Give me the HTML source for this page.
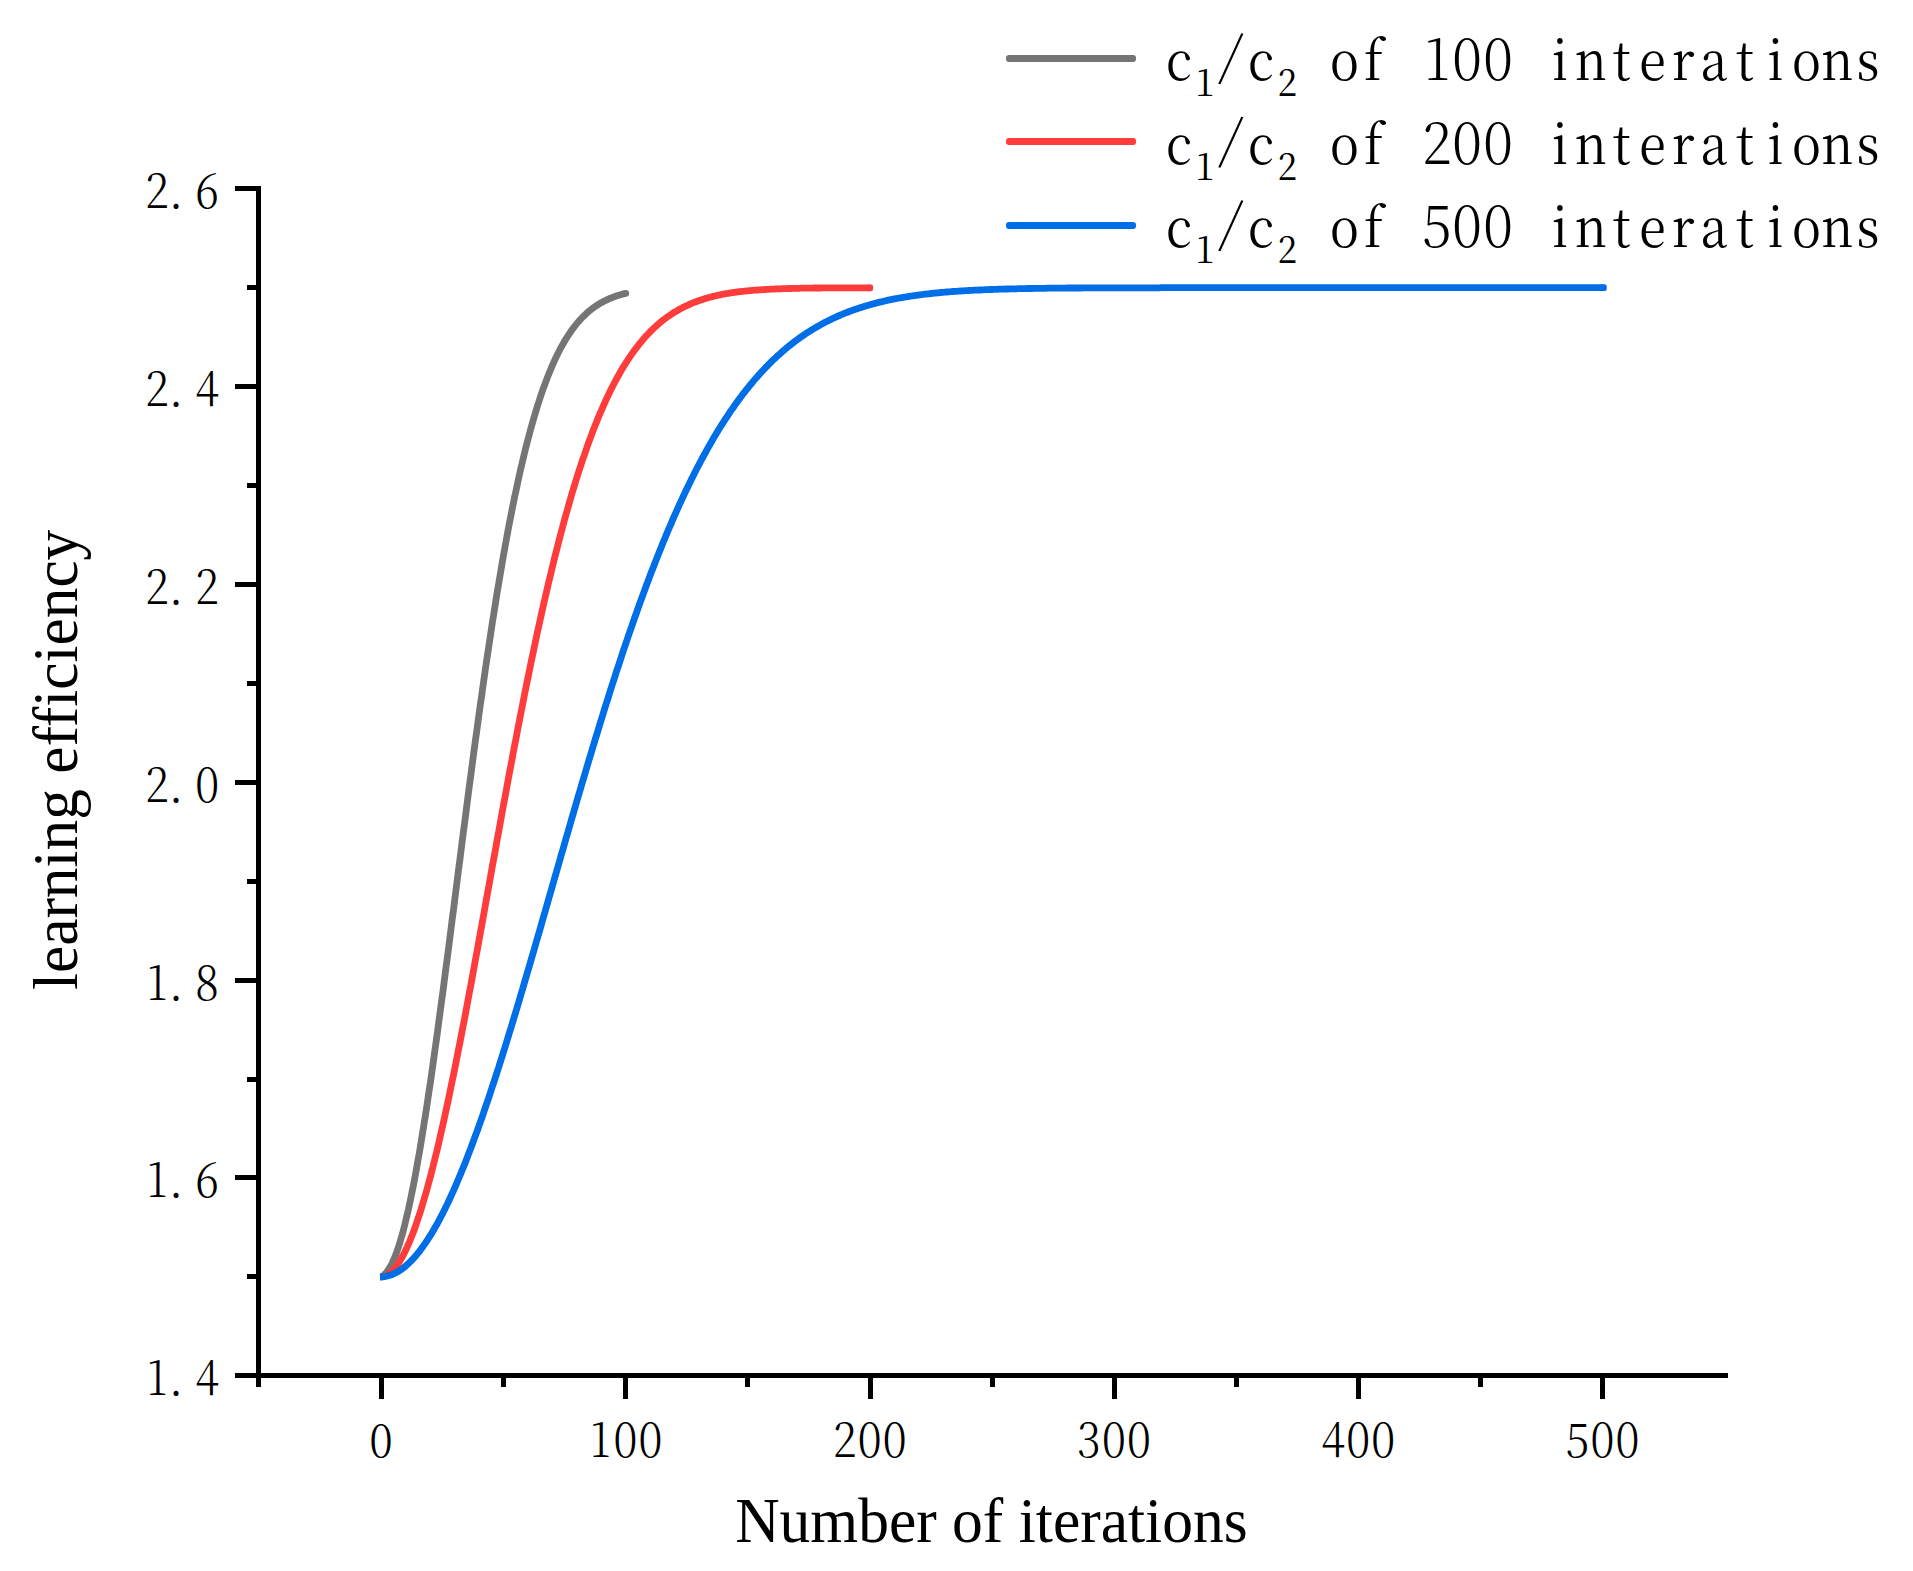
<!DOCTYPE html>
<html lang="en"><head><meta charset="utf-8"><title>c1/c2 learning efficiency</title>
<style>html,body{margin:0;padding:0;background:#fff}svg{display:block}.song{font-family:"Noto Serif CJK SC","Liberation Serif",serif;font-weight:300;fill:#000}.times{font-family:"Liberation Serif","Times New Roman",serif;fill:#000;font-variant-ligatures:none}</style></head><body>
<svg width="1913" height="1571" viewBox="0 0 1913 1571">
<rect width="1913" height="1571" fill="#fff"/>
<g fill="none" stroke-width="6.8" stroke-linecap="butt" stroke-linejoin="round">
<polyline stroke="#757575" points="380.0,1276.9 381.5,1276.9 382.7,1276.0 383.9,1275.0 385.2,1273.8 386.4,1272.5 387.6,1270.9 388.8,1269.1 390.0,1267.1 391.3,1264.9 392.5,1262.4 393.7,1259.7 394.9,1256.7 396.2,1253.6 397.4,1250.2 398.6,1246.5 399.8,1242.7 401.0,1238.6 402.3,1234.3 403.5,1229.8 404.7,1225.0 405.9,1220.0 407.1,1214.9 408.4,1209.5 409.6,1203.9 410.8,1198.1 412.0,1192.2 413.3,1186.0 414.5,1179.7 415.7,1173.1 416.9,1166.4 418.1,1159.5 419.4,1152.5 420.6,1145.3 421.8,1137.9 423.0,1130.4 424.2,1122.8 425.5,1115.0 426.7,1107.0 427.9,1098.9 429.1,1090.8 430.4,1082.4 431.6,1074.0 432.8,1065.5 434.0,1056.8 435.2,1048.1 436.5,1039.3 437.7,1030.3 438.9,1021.3 440.1,1012.3 441.3,1003.1 442.6,993.9 443.8,984.6 445.0,975.3 446.2,965.9 447.5,956.5 448.7,947.1 449.9,937.6 451.1,928.1 452.3,918.5 453.6,909.0 454.8,899.4 456.0,889.9 457.2,880.3 458.4,870.7 459.7,861.2 460.9,851.6 462.1,842.1 463.3,832.6 464.6,823.1 465.8,813.7 467.0,804.2 468.2,794.9 469.4,785.5 470.7,776.3 471.9,767.0 473.1,757.8 474.3,748.7 475.5,739.7 476.8,730.7 478.0,721.7 479.2,712.9 480.4,704.1 481.7,695.4 482.9,686.8 484.1,678.2 485.3,669.8 486.5,661.4 487.8,653.1 489.0,645.0 490.2,636.9 491.4,628.9 492.6,621.0 493.9,613.2 495.1,605.5 496.3,597.9 497.5,590.4 498.8,583.0 500.0,575.7 501.2,568.6 502.4,561.5 503.6,554.6 504.9,547.7 506.1,541.0 507.3,534.4 508.5,527.9 509.7,521.5 511.0,515.2 512.2,509.0 513.4,503.0 514.6,497.0 515.9,491.2 517.1,485.5 518.3,479.9 519.5,474.4 520.7,469.0 522.0,463.7 523.2,458.5 524.4,453.5 525.6,448.5 526.8,443.7 528.1,438.9 529.3,434.3 530.5,429.8 531.7,425.4 533.0,421.1 534.2,416.9 535.4,412.7 536.6,408.7 537.8,404.8 539.1,401.0 540.3,397.3 541.5,393.7 542.7,390.1 543.9,386.7 545.2,383.4 546.4,380.1 547.6,376.9 548.8,373.9 550.1,370.9 551.3,367.9 552.5,365.1 553.7,362.4 554.9,359.7 556.2,357.1 557.4,354.6 558.6,352.1 559.8,349.8 561.0,347.5 562.3,345.3 563.5,343.1 564.7,341.0 565.9,339.0 567.2,337.0 568.4,335.1 569.6,333.3 570.8,331.5 572.0,329.8 573.3,328.1 574.5,326.5 575.7,325.0 576.9,323.5 578.1,322.0 579.4,320.6 580.6,319.3 581.8,318.0 583.0,316.7 584.3,315.5 585.5,314.4 586.7,313.2 587.9,312.2 589.1,311.1 590.4,310.1 591.6,309.1 592.8,308.2 594.0,307.3 595.2,306.5 596.5,305.6 597.7,304.8 598.9,304.1 600.1,303.3 601.4,302.6 602.6,302.0 603.8,301.3 605.0,300.7 606.2,300.1 607.5,299.5 608.7,299.0 609.9,298.4 611.1,297.9 612.3,297.5 613.6,297.0 614.8,296.6 616.0,296.1 617.2,295.7 618.5,295.3 619.7,295.0 620.9,294.6 622.1,294.3 623.3,293.9 624.6,293.6 625.8,293.3"/>
<circle cx="625.8" cy="293.3" r="3.40" fill="#757575" stroke="none"/>
<polyline stroke="#ff3c3c" points="380.0,1276.9 381.5,1276.9 382.7,1276.7 383.9,1276.4 385.2,1276.0 386.4,1275.4 387.6,1274.7 388.8,1273.9 390.0,1273.0 391.3,1271.9 392.5,1270.8 393.7,1269.4 394.9,1268.0 396.2,1266.5 397.4,1264.8 398.6,1263.0 399.8,1261.1 401.0,1259.0 402.3,1256.9 403.5,1254.6 404.7,1252.2 405.9,1249.7 407.1,1247.1 408.4,1244.3 409.6,1241.5 410.8,1238.5 412.0,1235.5 413.3,1232.3 414.5,1229.0 415.7,1225.6 416.9,1222.0 418.1,1218.4 419.4,1214.7 420.6,1210.9 421.8,1207.0 423.0,1202.9 424.2,1198.8 425.5,1194.6 426.7,1190.3 427.9,1185.8 429.1,1181.3 430.4,1176.7 431.6,1172.1 432.8,1167.3 434.0,1162.4 435.2,1157.5 436.5,1152.5 437.7,1147.4 438.9,1142.2 440.1,1136.9 441.3,1131.6 442.6,1126.2 443.8,1120.7 445.0,1115.1 446.2,1109.5 447.5,1103.8 448.7,1098.1 449.9,1092.3 451.1,1086.4 452.3,1080.5 453.6,1074.5 454.8,1068.5 456.0,1062.4 457.2,1056.2 458.4,1050.0 459.7,1043.8 460.9,1037.5 462.1,1031.2 463.3,1024.8 464.6,1018.4 465.8,1012.0 467.0,1005.5 468.2,999.0 469.4,992.4 470.7,985.9 471.9,979.3 473.1,972.7 474.3,966.0 475.5,959.3 476.8,952.7 478.0,946.0 479.2,939.2 480.4,932.5 481.7,925.8 482.9,919.0 484.1,912.3 485.3,905.5 486.5,898.7 487.8,891.9 489.0,885.2 490.2,878.4 491.4,871.6 492.6,864.8 493.9,858.1 495.1,851.3 496.3,844.6 497.5,837.8 498.8,831.1 500.0,824.4 501.2,817.7 502.4,811.0 503.6,804.4 504.9,797.7 506.1,791.1 507.3,784.5 508.5,777.9 509.7,771.4 511.0,764.9 512.2,758.4 513.4,751.9 514.6,745.5 515.9,739.1 517.1,732.7 518.3,726.4 519.5,720.1 520.7,713.8 522.0,707.6 523.2,701.4 524.4,695.2 525.6,689.1 526.8,683.1 528.1,677.0 529.3,671.1 530.5,665.1 531.7,659.2 533.0,653.4 534.2,647.6 535.4,641.8 536.6,636.1 537.8,630.4 539.1,624.8 540.3,619.3 541.5,613.8 542.7,608.3 543.9,602.9 545.2,597.5 546.4,592.2 547.6,587.0 548.8,581.8 550.1,576.6 551.3,571.5 552.5,566.5 553.7,561.5 554.9,556.6 556.2,551.7 557.4,546.9 558.6,542.1 559.8,537.4 561.0,532.8 562.3,528.2 563.5,523.6 564.7,519.2 565.9,514.7 567.2,510.4 568.4,506.0 569.6,501.8 570.8,497.6 572.0,493.4 573.3,489.3 574.5,485.3 575.7,481.3 576.9,477.4 578.1,473.5 579.4,469.7 580.6,466.0 581.8,462.3 583.0,458.6 584.3,455.1 585.5,451.5 586.7,448.0 587.9,444.6 589.1,441.2 590.4,437.9 591.6,434.6 592.8,431.4 594.0,428.3 595.2,425.2 596.5,422.1 597.7,419.1 598.9,416.1 600.1,413.2 601.4,410.4 602.6,407.6 603.8,404.8 605.0,402.1 606.2,399.4 607.5,396.8 608.7,394.3 609.9,391.8 611.1,389.3 612.3,386.9 613.6,384.5 614.8,382.1 616.0,379.9 617.2,377.6 618.5,375.4 619.7,373.3 620.9,371.1 622.1,369.1 623.3,367.0 624.6,365.0 625.8,363.1 627.0,361.2 628.2,359.3 629.4,357.5 630.7,355.7 631.9,353.9 633.1,352.2 634.3,350.5 635.6,348.9 636.8,347.3 638.0,345.7 639.2,344.1 640.4,342.6 641.7,341.2 642.9,339.7 644.1,338.3 645.3,336.9 646.5,335.6 647.8,334.3 649.0,333.0 650.2,331.7 651.4,330.5 652.7,329.3 653.9,328.1 655.1,327.0 656.3,325.9 657.5,324.8 658.8,323.7 660.0,322.7 661.2,321.7 662.4,320.7 663.6,319.7 664.9,318.8 666.1,317.9 667.3,317.0 668.5,316.1 669.8,315.3 671.0,314.5 672.2,313.7 673.4,312.9 674.6,312.1 675.9,311.4 677.1,310.7 678.3,310.0 679.5,309.3 680.7,308.6 682.0,308.0 683.2,307.3 684.4,306.7 685.6,306.1 686.9,305.6 688.1,305.0 689.3,304.4 690.5,303.9 691.7,303.4 693.0,302.9 694.2,302.4 695.4,301.9 696.6,301.5 697.8,301.0 699.1,300.6 700.3,300.2 701.5,299.8 702.7,299.4 703.9,299.0 705.2,298.6 706.4,298.2 707.6,297.9 708.8,297.5 710.1,297.2 711.3,296.9 712.5,296.6 713.7,296.3 714.9,296.0 716.2,295.7 717.4,295.4 718.6,295.2 719.8,294.9 721.0,294.6 722.3,294.4 723.5,294.2 724.7,293.9 725.9,293.7 727.2,293.5 728.4,293.3 729.6,293.1 730.8,292.9 732.0,292.7 733.3,292.5 734.5,292.4 735.7,292.2 736.9,292.0 738.1,291.9 739.4,291.7 740.6,291.6 741.8,291.4 743.0,291.3 744.3,291.2 745.5,291.0 746.7,290.9 747.9,290.8 749.1,290.7 750.4,290.6 751.6,290.5 752.8,290.3 754.0,290.2 755.2,290.2 756.5,290.1 757.7,290.0 758.9,289.9 760.1,289.8 761.4,289.7 762.6,289.6 763.8,289.6 765.0,289.5 766.2,289.4 767.5,289.4 768.7,289.3 769.9,289.2 771.1,289.2 772.3,289.1 773.6,289.1 774.8,289.0 776.0,288.9 777.2,288.9 778.5,288.8 779.7,288.8 780.9,288.8 782.1,288.7 783.3,288.7 784.6,288.6 785.8,288.6 787.0,288.6 788.2,288.5 789.4,288.5 790.7,288.5 791.9,288.4 793.1,288.4 794.3,288.4 795.6,288.3 796.8,288.3 798.0,288.3 799.2,288.3 800.4,288.2 801.7,288.2 802.9,288.2 804.1,288.2 805.3,288.2 806.5,288.1 807.8,288.1 809.0,288.1 810.2,288.1 811.4,288.1 812.7,288.1 813.9,288.0 815.1,288.0 816.3,288.0 817.5,288.0 818.8,288.0 820.0,288.0 821.2,288.0 822.4,287.9 823.6,287.9 824.9,287.9 826.1,287.9 827.3,287.9 828.5,287.9 829.8,287.9 831.0,287.9 832.2,287.9 833.4,287.9 834.6,287.9 835.9,287.9 837.1,287.8 838.3,287.8 839.5,287.8 840.7,287.8 842.0,287.8 843.2,287.8 844.4,287.8 845.6,287.8 846.9,287.8 848.1,287.8 849.3,287.8 850.5,287.8 851.7,287.8 853.0,287.8 854.2,287.8 855.4,287.8 856.6,287.8 857.8,287.8 859.1,287.8 860.3,287.8 861.5,287.8 862.7,287.8 864.0,287.8 865.2,287.8 866.4,287.8 867.6,287.8 868.8,287.8 870.1,287.8"/>
<rect x="867.1" y="284.4" width="6.0" height="6.8" rx="2.2" fill="#ff3c3c" stroke="none"/>
<polyline stroke="#006ee6" points="380.0,1276.9 381.5,1276.9 382.7,1276.8 383.9,1276.7 385.2,1276.5 386.4,1276.2 387.6,1276.0 388.8,1275.6 390.0,1275.2 391.3,1274.8 392.5,1274.3 393.7,1273.8 394.9,1273.2 396.2,1272.6 397.4,1271.9 398.6,1271.2 399.8,1270.4 401.0,1269.6 402.3,1268.7 403.5,1267.8 404.7,1266.8 405.9,1265.8 407.1,1264.7 408.4,1263.6 409.6,1262.4 410.8,1261.2 412.0,1259.9 413.3,1258.6 414.5,1257.3 415.7,1255.9 416.9,1254.4 418.1,1252.9 419.4,1251.4 420.6,1249.8 421.8,1248.1 423.0,1246.5 424.2,1244.7 425.5,1243.0 426.7,1241.1 427.9,1239.3 429.1,1237.4 430.4,1235.4 431.6,1233.4 432.8,1231.4 434.0,1229.3 435.2,1227.2 436.5,1225.0 437.7,1222.8 438.9,1220.6 440.1,1218.3 441.3,1215.9 442.6,1213.6 443.8,1211.1 445.0,1208.7 446.2,1206.2 447.5,1203.7 448.7,1201.1 449.9,1198.5 451.1,1195.8 452.3,1193.1 453.6,1190.4 454.8,1187.7 456.0,1184.9 457.2,1182.0 458.4,1179.1 459.7,1176.2 460.9,1173.3 462.1,1170.3 463.3,1167.3 464.6,1164.3 465.8,1161.2 467.0,1158.1 468.2,1154.9 469.4,1151.7 470.7,1148.5 471.9,1145.3 473.1,1142.0 474.3,1138.7 475.5,1135.4 476.8,1132.0 478.0,1128.6 479.2,1125.2 480.4,1121.8 481.7,1118.3 482.9,1114.8 484.1,1111.2 485.3,1107.7 486.5,1104.1 487.8,1100.5 489.0,1096.9 490.2,1093.2 491.4,1089.5 492.6,1085.8 493.9,1082.1 495.1,1078.3 496.3,1074.6 497.5,1070.8 498.8,1067.0 500.0,1063.1 501.2,1059.3 502.4,1055.4 503.6,1051.5 504.9,1047.6 506.1,1043.7 507.3,1039.7 508.5,1035.7 509.7,1031.8 511.0,1027.8 512.2,1023.7 513.4,1019.7 514.6,1015.7 515.9,1011.6 517.1,1007.5 518.3,1003.5 519.5,999.4 520.7,995.2 522.0,991.1 523.2,987.0 524.4,982.8 525.6,978.7 526.8,974.5 528.1,970.3 529.3,966.2 530.5,962.0 531.7,957.8 533.0,953.6 534.2,949.4 535.4,945.1 536.6,940.9 537.8,936.7 539.1,932.4 540.3,928.2 541.5,924.0 542.7,919.7 543.9,915.4 545.2,911.2 546.4,906.9 547.6,902.7 548.8,898.4 550.1,894.1 551.3,889.9 552.5,885.6 553.7,881.4 554.9,877.1 556.2,872.8 557.4,868.6 558.6,864.3 559.8,860.1 561.0,855.8 562.3,851.6 563.5,847.3 564.7,843.1 565.9,838.8 567.2,834.6 568.4,830.4 569.6,826.1 570.8,821.9 572.0,817.7 573.3,813.5 574.5,809.3 575.7,805.1 576.9,800.9 578.1,796.8 579.4,792.6 580.6,788.4 581.8,784.3 583.0,780.2 584.3,776.0 585.5,771.9 586.7,767.8 587.9,763.7 589.1,759.6 590.4,755.5 591.6,751.5 592.8,747.4 594.0,743.4 595.2,739.4 596.5,735.4 597.7,731.4 598.9,727.4 600.1,723.4 601.4,719.4 602.6,715.5 603.8,711.6 605.0,707.6 606.2,703.8 607.5,699.9 608.7,696.0 609.9,692.1 611.1,688.3 612.3,684.5 613.6,680.7 614.8,676.9 616.0,673.1 617.2,669.4 618.5,665.6 619.7,661.9 620.9,658.2 622.1,654.5 623.3,650.9 624.6,647.2 625.8,643.6 627.0,640.0 628.2,636.4 629.4,632.9 630.7,629.3 631.9,625.8 633.1,622.3 634.3,618.8 635.6,615.3 636.8,611.8 638.0,608.4 639.2,605.0 640.4,601.6 641.7,598.2 642.9,594.9 644.1,591.6 645.3,588.3 646.5,585.0 647.8,581.7 649.0,578.5 650.2,575.2 651.4,572.0 652.7,568.9 653.9,565.7 655.1,562.6 656.3,559.5 657.5,556.4 658.8,553.3 660.0,550.2 661.2,547.2 662.4,544.2 663.6,541.2 664.9,538.3 666.1,535.3 667.3,532.4 668.5,529.5 669.8,526.6 671.0,523.8 672.2,520.9 673.4,518.1 674.6,515.4 675.9,512.6 677.1,509.9 678.3,507.1 679.5,504.4 680.7,501.8 682.0,499.1 683.2,496.5 684.4,493.9 685.6,491.3 686.9,488.7 688.1,486.2 689.3,483.7 690.5,481.2 691.7,478.7 693.0,476.3 694.2,473.8 695.4,471.4 696.6,469.0 697.8,466.7 699.1,464.3 700.3,462.0 701.5,459.7 702.7,457.5 703.9,455.2 705.2,453.0 706.4,450.8 707.6,448.6 708.8,446.4 710.1,444.2 711.3,442.1 712.5,440.0 713.7,437.9 714.9,435.9 716.2,433.8 717.4,431.8 718.6,429.8 719.8,427.8 721.0,425.9 722.3,423.9 723.5,422.0 724.7,420.1 725.9,418.2 727.2,416.4 728.4,414.6 729.6,412.7 730.8,410.9 732.0,409.2 733.3,407.4 734.5,405.7 735.7,403.9 736.9,402.2 738.1,400.6 739.4,398.9 740.6,397.3 741.8,395.6 743.0,394.0 744.3,392.4 745.5,390.9 746.7,389.3 747.9,387.8 749.1,386.3 750.4,384.8 751.6,383.3 752.8,381.8 754.0,380.4 755.2,379.0 756.5,377.6 757.7,376.2 758.9,374.8 760.1,373.5 761.4,372.1 762.6,370.8 763.8,369.5 765.0,368.2 766.2,366.9 767.5,365.7 768.7,364.4 769.9,363.2 771.1,362.0 772.3,360.8 773.6,359.6 774.8,358.5 776.0,357.3 777.2,356.2 778.5,355.1 779.7,354.0 780.9,352.9 782.1,351.8 783.3,350.7 784.6,349.7 785.8,348.7 787.0,347.7 788.2,346.7 789.4,345.7 790.7,344.7 791.9,343.7 793.1,342.8 794.3,341.8 795.6,340.9 796.8,340.0 798.0,339.1 799.2,338.2 800.4,337.4 801.7,336.5 802.9,335.7 804.1,334.8 805.3,334.0 806.5,333.2 807.8,332.4 809.0,331.6 810.2,330.9 811.4,330.1 812.7,329.3 813.9,328.6 815.1,327.9 816.3,327.2 817.5,326.5 818.8,325.8 820.0,325.1 821.2,324.4 822.4,323.7 823.6,323.1 824.9,322.4 826.1,321.8 827.3,321.2 828.5,320.6 829.8,320.0 831.0,319.4 832.2,318.8 833.4,318.2 834.6,317.6 835.9,317.1 837.1,316.5 838.3,316.0 839.5,315.5 840.7,314.9 842.0,314.4 843.2,313.9 844.4,313.4 845.6,312.9 846.9,312.4 848.1,312.0 849.3,311.5 850.5,311.1 851.7,310.6 853.0,310.2 854.2,309.7 855.4,309.3 856.6,308.9 857.8,308.5 859.1,308.1 860.3,307.7 861.5,307.3 862.7,306.9 864.0,306.5 865.2,306.1 866.4,305.8 867.6,305.4 868.8,305.0 870.1,304.7 871.3,304.4 872.5,304.0 873.7,303.7 874.9,303.4 876.2,303.1 877.4,302.7 878.6,302.4 879.8,302.1 881.1,301.8 882.3,301.6 883.5,301.3 884.7,301.0 885.9,300.7 887.2,300.4 888.4,300.2 889.6,299.9 890.8,299.7 892.0,299.4 893.3,299.2 894.5,298.9 895.7,298.7 896.9,298.5 898.2,298.2 899.4,298.0 900.6,297.8 901.8,297.6 903.0,297.4 904.3,297.2 905.5,297.0 906.7,296.8 907.9,296.6 909.1,296.4 910.4,296.2 911.6,296.0 912.8,295.8 914.0,295.6 915.3,295.5 916.5,295.3 917.7,295.1 918.9,295.0 920.1,294.8 921.4,294.7 922.6,294.5 923.8,294.3 925.0,294.2 926.2,294.1 927.5,293.9 928.7,293.8 929.9,293.6 931.1,293.5 932.4,293.4 933.6,293.2 934.8,293.1 936.0,293.0 937.2,292.9 938.5,292.8 939.7,292.6 940.9,292.5 942.1,292.4 943.3,292.3 944.6,292.2 945.8,292.1 947.0,292.0 948.2,291.9 949.5,291.8 950.7,291.7 951.9,291.6 953.1,291.5 954.3,291.4 955.6,291.4 956.8,291.3 958.0,291.2 959.2,291.1 960.4,291.0 961.7,290.9 962.9,290.9 964.1,290.8 965.3,290.7 966.6,290.6 967.8,290.6 969.0,290.5 970.2,290.4 971.4,290.4 972.7,290.3 973.9,290.2 975.1,290.2 976.3,290.1 977.5,290.1 978.8,290.0 980.0,290.0 981.2,289.9 982.4,289.8 983.7,289.8 984.9,289.7 986.1,289.7 987.3,289.6 988.5,289.6 989.8,289.5 991.0,289.5 992.2,289.5 993.4,289.4 994.6,289.4 995.9,289.3 997.1,289.3 998.3,289.2 999.5,289.2 1000.7,289.2 1002.0,289.1 1003.2,289.1 1004.4,289.1 1005.6,289.0 1006.9,289.0 1008.1,289.0 1009.3,288.9 1010.5,288.9 1011.7,288.9 1013.0,288.8 1014.2,288.8 1015.4,288.8 1016.6,288.8 1017.8,288.7 1019.1,288.7 1020.3,288.7 1021.5,288.7 1022.7,288.6 1024.0,288.6 1025.2,288.6 1026.4,288.6 1027.6,288.5 1028.8,288.5 1030.1,288.5 1031.3,288.5 1032.5,288.5 1033.7,288.4 1034.9,288.4 1036.2,288.4 1037.4,288.4 1038.6,288.4 1039.8,288.3 1041.1,288.3 1042.3,288.3 1043.5,288.3 1044.7,288.3 1045.9,288.3 1047.2,288.2 1048.4,288.2 1049.6,288.2 1050.8,288.2 1052.0,288.2 1053.3,288.2 1054.5,288.2 1055.7,288.2 1056.9,288.1 1058.2,288.1 1059.4,288.1 1060.6,288.1 1061.8,288.1 1063.0,288.1 1064.3,288.1 1065.5,288.1 1066.7,288.1 1067.9,288.0 1069.1,288.0 1070.4,288.0 1071.6,288.0 1072.8,288.0 1074.0,288.0 1075.3,288.0 1076.5,288.0 1077.7,288.0 1078.9,288.0 1080.1,288.0 1081.4,288.0 1082.6,287.9 1083.8,287.9 1085.0,287.9 1086.2,287.9 1087.5,287.9 1088.7,287.9 1089.9,287.9 1091.1,287.9 1092.4,287.9 1093.6,287.9 1094.8,287.9 1096.0,287.9 1097.2,287.9 1098.5,287.9 1099.7,287.9 1100.9,287.9 1102.1,287.9 1103.3,287.9 1104.6,287.9 1105.8,287.8 1107.0,287.8 1108.2,287.8 1109.5,287.8 1110.7,287.8 1111.9,287.8 1113.1,287.8 1114.3,287.8 1115.6,287.8 1116.8,287.8 1118.0,287.8 1119.2,287.8 1120.4,287.8 1121.7,287.8 1122.9,287.8 1124.1,287.8 1125.3,287.8 1126.6,287.8 1127.8,287.8 1129.0,287.8 1130.2,287.8 1131.4,287.8 1132.7,287.8 1133.9,287.8 1135.1,287.8 1136.3,287.8 1137.5,287.8 1138.8,287.8 1140.0,287.8 1141.2,287.8 1142.4,287.8 1143.7,287.8 1144.9,287.8 1146.1,287.8 1147.3,287.8 1148.5,287.8 1149.8,287.8 1151.0,287.8 1152.2,287.8 1153.4,287.8 1154.6,287.8 1155.9,287.8 1157.1,287.8 1158.3,287.8 1159.5,287.8 1160.8,287.7 1162.0,287.7 1163.2,287.7 1164.4,287.7 1165.6,287.7 1166.9,287.7 1168.1,287.7 1169.3,287.7 1170.5,287.7 1171.7,287.7 1173.0,287.7 1174.2,287.7 1175.4,287.7 1176.6,287.7 1177.9,287.7 1179.1,287.7 1180.3,287.7 1181.5,287.7 1182.7,287.7 1184.0,287.7 1185.2,287.7 1186.4,287.7 1187.6,287.7 1188.8,287.7 1190.1,287.7 1191.3,287.7 1192.5,287.7 1193.7,287.7 1195.0,287.7 1196.2,287.7 1197.4,287.7 1198.6,287.7 1199.8,287.7 1201.1,287.7 1202.3,287.7 1203.5,287.7 1204.7,287.7 1205.9,287.7 1207.2,287.7 1208.4,287.7 1209.6,287.7 1210.8,287.7 1212.1,287.7 1213.3,287.7 1214.5,287.7 1215.7,287.7 1216.9,287.7 1218.2,287.7 1219.4,287.7 1220.6,287.7 1221.8,287.7 1223.0,287.7 1224.3,287.7 1225.5,287.7 1226.7,287.7 1227.9,287.7 1229.2,287.7 1230.4,287.7 1231.6,287.7 1232.8,287.7 1234.0,287.7 1235.3,287.7 1236.5,287.7 1237.7,287.7 1238.9,287.7 1240.1,287.7 1241.4,287.7 1242.6,287.7 1243.8,287.7 1245.0,287.7 1246.3,287.7 1247.5,287.7 1248.7,287.7 1249.9,287.7 1251.1,287.7 1252.4,287.7 1253.6,287.7 1254.8,287.7 1256.0,287.7 1257.2,287.7 1258.5,287.7 1259.7,287.7 1260.9,287.7 1262.1,287.7 1263.4,287.7 1264.6,287.7 1265.8,287.7 1267.0,287.7 1268.2,287.7 1269.5,287.7 1270.7,287.7 1271.9,287.7 1273.1,287.7 1274.3,287.7 1275.6,287.7 1276.8,287.7 1278.0,287.7 1279.2,287.7 1280.5,287.7 1281.7,287.7 1282.9,287.7 1284.1,287.7 1285.3,287.7 1286.6,287.7 1287.8,287.7 1289.0,287.7 1290.2,287.7 1291.4,287.7 1292.7,287.7 1293.9,287.7 1295.1,287.7 1296.3,287.7 1297.6,287.7 1298.8,287.7 1300.0,287.7 1301.2,287.7 1302.4,287.7 1303.7,287.7 1304.9,287.7 1306.1,287.7 1307.3,287.7 1308.5,287.7 1309.8,287.7 1311.0,287.7 1312.2,287.7 1313.4,287.7 1314.6,287.7 1315.9,287.7 1317.1,287.7 1318.3,287.7 1319.5,287.7 1320.8,287.7 1322.0,287.7 1323.2,287.7 1324.4,287.7 1325.6,287.7 1326.9,287.7 1328.1,287.7 1329.3,287.7 1330.5,287.7 1331.7,287.7 1333.0,287.7 1334.2,287.7 1335.4,287.7 1336.6,287.7 1337.9,287.7 1339.1,287.7 1340.3,287.7 1341.5,287.7 1342.7,287.7 1344.0,287.7 1345.2,287.7 1346.4,287.7 1347.6,287.7 1348.8,287.7 1350.1,287.7 1351.3,287.7 1352.5,287.7 1353.7,287.7 1355.0,287.7 1356.2,287.7 1357.4,287.7 1358.6,287.7 1359.8,287.7 1361.1,287.7 1362.3,287.7 1363.5,287.7 1364.7,287.7 1365.9,287.7 1367.2,287.7 1368.4,287.7 1369.6,287.7 1370.8,287.7 1372.1,287.7 1373.3,287.7 1374.5,287.7 1375.7,287.7 1376.9,287.7 1378.2,287.7 1379.4,287.7 1380.6,287.7 1381.8,287.7 1383.0,287.7 1384.3,287.7 1385.5,287.7 1386.7,287.7 1387.9,287.7 1389.2,287.7 1390.4,287.7 1391.6,287.7 1392.8,287.7 1394.0,287.7 1395.3,287.7 1396.5,287.7 1397.7,287.7 1398.9,287.7 1400.1,287.7 1401.4,287.7 1402.6,287.7 1403.8,287.7 1405.0,287.7 1406.3,287.7 1407.5,287.7 1408.7,287.7 1409.9,287.7 1411.1,287.7 1412.4,287.7 1413.6,287.7 1414.8,287.7 1416.0,287.7 1417.2,287.7 1418.5,287.7 1419.7,287.7 1420.9,287.7 1422.1,287.7 1423.4,287.7 1424.6,287.7 1425.8,287.7 1427.0,287.7 1428.2,287.7 1429.5,287.7 1430.7,287.7 1431.9,287.7 1433.1,287.7 1434.3,287.7 1435.6,287.7 1436.8,287.7 1438.0,287.7 1439.2,287.7 1440.5,287.7 1441.7,287.7 1442.9,287.7 1444.1,287.7 1445.3,287.7 1446.6,287.7 1447.8,287.7 1449.0,287.7 1450.2,287.7 1451.4,287.7 1452.7,287.7 1453.9,287.7 1455.1,287.7 1456.3,287.7 1457.6,287.7 1458.8,287.7 1460.0,287.7 1461.2,287.7 1462.4,287.7 1463.7,287.7 1464.9,287.7 1466.1,287.7 1467.3,287.7 1468.5,287.7 1469.8,287.7 1471.0,287.7 1472.2,287.7 1473.4,287.7 1474.7,287.7 1475.9,287.7 1477.1,287.7 1478.3,287.7 1479.5,287.7 1480.8,287.7 1482.0,287.7 1483.2,287.7 1484.4,287.7 1485.6,287.7 1486.9,287.7 1488.1,287.7 1489.3,287.7 1490.5,287.7 1491.8,287.7 1493.0,287.7 1494.2,287.7 1495.4,287.7 1496.6,287.7 1497.9,287.7 1499.1,287.7 1500.3,287.7 1501.5,287.7 1502.7,287.7 1504.0,287.7 1505.2,287.7 1506.4,287.7 1507.6,287.7 1508.9,287.7 1510.1,287.7 1511.3,287.7 1512.5,287.7 1513.7,287.7 1515.0,287.7 1516.2,287.7 1517.4,287.7 1518.6,287.7 1519.8,287.7 1521.1,287.7 1522.3,287.7 1523.5,287.7 1524.7,287.7 1526.0,287.7 1527.2,287.7 1528.4,287.7 1529.6,287.7 1530.8,287.7 1532.1,287.7 1533.3,287.7 1534.5,287.7 1535.7,287.7 1536.9,287.7 1538.2,287.7 1539.4,287.7 1540.6,287.7 1541.8,287.7 1543.1,287.7 1544.3,287.7 1545.5,287.7 1546.7,287.7 1547.9,287.7 1549.2,287.7 1550.4,287.7 1551.6,287.7 1552.8,287.7 1554.0,287.7 1555.3,287.7 1556.5,287.7 1557.7,287.7 1558.9,287.7 1560.2,287.7 1561.4,287.7 1562.6,287.7 1563.8,287.7 1565.0,287.7 1566.3,287.7 1567.5,287.7 1568.7,287.7 1569.9,287.7 1571.1,287.7 1572.4,287.7 1573.6,287.7 1574.8,287.7 1576.0,287.7 1577.3,287.7 1578.5,287.7 1579.7,287.7 1580.9,287.7 1582.1,287.7 1583.4,287.7 1584.6,287.7 1585.8,287.7 1587.0,287.7 1588.2,287.7 1589.5,287.7 1590.7,287.7 1591.9,287.7 1593.1,287.7 1594.4,287.7 1595.6,287.7 1596.8,287.7 1598.0,287.7 1599.2,287.7 1600.5,287.7 1601.7,287.7 1602.9,287.7"/>
<rect x="1599.9" y="284.3" width="6.8" height="6.8" rx="2.2" fill="#006ee6" stroke="none"/>
</g>
<g fill="#000" shape-rendering="crispEdges">
<rect x="256" y="186" width="5" height="1201"/>
<rect x="235" y="1373" width="1493" height="5"/>
<rect x="235" y="186" width="22" height="5"/>
<rect x="247" y="285" width="10" height="5"/>
<rect x="235" y="384" width="22" height="5"/>
<rect x="247" y="483" width="10" height="5"/>
<rect x="235" y="582" width="22" height="5"/>
<rect x="247" y="681" width="10" height="5"/>
<rect x="235" y="780" width="22" height="5"/>
<rect x="247" y="879" width="10" height="5"/>
<rect x="235" y="978" width="22" height="5"/>
<rect x="247" y="1077" width="10" height="5"/>
<rect x="235" y="1175" width="22" height="5"/>
<rect x="247" y="1274" width="10" height="5"/>
<rect x="235" y="1373" width="22" height="5"/>
<rect x="379" y="1377" width="5" height="22"/>
<rect x="501" y="1377" width="5" height="10"/>
<rect x="623" y="1377" width="5" height="22"/>
<rect x="745" y="1377" width="5" height="10"/>
<rect x="868" y="1377" width="5" height="22"/>
<rect x="990" y="1377" width="5" height="10"/>
<rect x="1112" y="1377" width="5" height="22"/>
<rect x="1234" y="1377" width="5" height="10"/>
<rect x="1356" y="1377" width="5" height="22"/>
<rect x="1478" y="1377" width="5" height="10"/>
<rect x="1600" y="1377" width="5" height="22"/>
</g>
<text class="song" transform="scale(0.941,1)" font-size="46.2" text-anchor="middle" x="166.95 187.04 220.09" y="207.8">2.6</text>
<text class="song" transform="scale(0.941,1)" font-size="46.2" text-anchor="middle" x="166.95 187.04 220.09" y="405.8">2.4</text>
<text class="song" transform="scale(0.941,1)" font-size="46.2" text-anchor="middle" x="166.95 187.04 220.09" y="603.8">2.2</text>
<text class="song" transform="scale(0.941,1)" font-size="46.2" text-anchor="middle" x="166.95 187.04 220.09" y="801.8">2.0</text>
<text class="song" transform="scale(0.941,1)" font-size="46.2" text-anchor="middle" x="166.95 187.04 220.09" y="999.8">1.8</text>
<text class="song" transform="scale(0.941,1)" font-size="46.2" text-anchor="middle" x="166.95 187.04 220.09" y="1196.8">1.6</text>
<text class="song" transform="scale(0.941,1)" font-size="46.2" text-anchor="middle" x="166.95 187.04 220.09" y="1394.8">1.4</text>
<text class="song" transform="scale(0.941,1)" font-size="46.2" text-anchor="middle" x="404.99" y="1457.0">0</text>
<text class="song" transform="scale(0.941,1)" font-size="46.2" text-anchor="middle" x="638.02 664.59 691.16" y="1457.0">100</text>
<text class="song" transform="scale(0.941,1)" font-size="46.2" text-anchor="middle" x="897.62 924.19 950.75" y="1457.0">200</text>
<text class="song" transform="scale(0.941,1)" font-size="46.2" text-anchor="middle" x="1157.22 1183.78 1210.35" y="1457.0">300</text>
<text class="song" transform="scale(0.941,1)" font-size="46.2" text-anchor="middle" x="1416.81 1443.38 1469.95" y="1457.0">400</text>
<text class="song" transform="scale(0.941,1)" font-size="46.2" text-anchor="middle" x="1676.41 1702.98 1729.54" y="1457.0">500</text>
<text class="times" font-size="62.4" text-anchor="middle" transform="translate(991.4,1542.2) scale(0.986,1)">Number of iterations</text>
<text class="times" font-size="62.6" text-anchor="middle" transform="translate(76.6,759.9) rotate(-90) scale(0.98,1)">learning efficiency</text>
<rect x="1006" y="55" width="130" height="7" rx="3" fill="#757575"/>
<text class="song" transform="scale(0.9,1)" font-size="54" text-anchor="middle" x="1310.22 1338.89 1364.89 1401.22 1430.56 1458.89 1493.89 1526.11" y="80.3" style="font-weight:400">c<tspan font-size="39" dy="16">1</tspan><tspan dy="-22.3" font-size="57.6" rotate="9.6" style="font-weight:300">/</tspan><tspan dy="6.3">c</tspan><tspan font-size="39" dy="16">2</tspan><tspan dy="-16"> </tspan>of</text>
<text class="song" transform="scale(0.957,1)" font-size="56.5" text-anchor="middle" x="1501.46 1532.92 1565.31" y="80.3">100</text>
<text class="song" transform="scale(0.9,1)" font-size="54" text-anchor="middle" x="1733.44 1767.67 1801.89 1836.11 1870.33 1904.56 1938.78 1973.00 2007.22 2041.44 2075.67" y="80.3" style="font-weight:400">interations</text>
<rect x="1006" y="138" width="130" height="7" rx="3" fill="#ff3c3c"/>
<text class="song" transform="scale(0.9,1)" font-size="54" text-anchor="middle" x="1310.22 1338.89 1364.89 1401.22 1430.56 1458.89 1493.89 1526.11" y="163.8" style="font-weight:400">c<tspan font-size="39" dy="16">1</tspan><tspan dy="-22.3" font-size="57.6" rotate="9.6" style="font-weight:300">/</tspan><tspan dy="6.3">c</tspan><tspan font-size="39" dy="16">2</tspan><tspan dy="-16"> </tspan>of</text>
<text class="song" transform="scale(0.957,1)" font-size="56.5" text-anchor="middle" x="1501.46 1532.92 1565.31" y="163.8">200</text>
<text class="song" transform="scale(0.9,1)" font-size="54" text-anchor="middle" x="1733.44 1767.67 1801.89 1836.11 1870.33 1904.56 1938.78 1973.00 2007.22 2041.44 2075.67" y="163.8" style="font-weight:400">interations</text>
<rect x="1006" y="222" width="130" height="7" rx="3" fill="#006ee6"/>
<text class="song" transform="scale(0.9,1)" font-size="54" text-anchor="middle" x="1310.22 1338.89 1364.89 1401.22 1430.56 1458.89 1493.89 1526.11" y="247.3" style="font-weight:400">c<tspan font-size="39" dy="16">1</tspan><tspan dy="-22.3" font-size="57.6" rotate="9.6" style="font-weight:300">/</tspan><tspan dy="6.3">c</tspan><tspan font-size="39" dy="16">2</tspan><tspan dy="-16"> </tspan>of</text>
<text class="song" transform="scale(0.957,1)" font-size="56.5" text-anchor="middle" x="1501.46 1532.92 1565.31" y="247.3">500</text>
<text class="song" transform="scale(0.9,1)" font-size="54" text-anchor="middle" x="1733.44 1767.67 1801.89 1836.11 1870.33 1904.56 1938.78 1973.00 2007.22 2041.44 2075.67" y="247.3" style="font-weight:400">interations</text>
</svg></body></html>
